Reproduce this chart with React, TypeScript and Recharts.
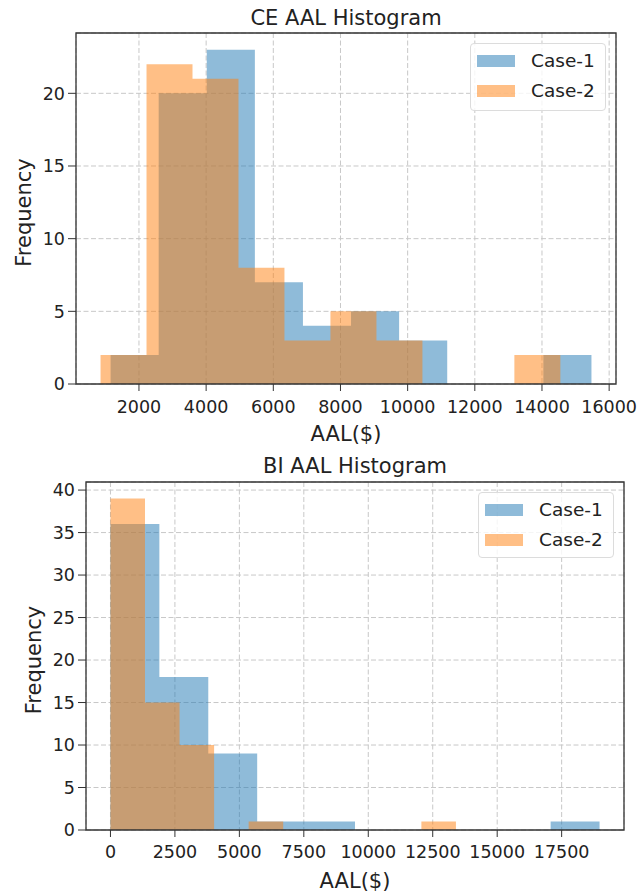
import React from 'react';
import { ComposedChart, Area, XAxis, YAxis, CartesianGrid, ReferenceArea, Label } from 'recharts';

const seriesNames = ['Case-1', 'Case-2'];
const seriesColors = ['#1f77b4', '#ff7f0e'];

// CE AAL histogram: bin edges and counts per case
const ceEdges1 = [1155, 2587, 4019, 5451, 6882, 8314, 9746, 11178, 12610, 14041, 15473];
const ceCounts1 = [2, 20, 23, 7, 4, 5, 3, 0, 0, 2];
const ceEdges2 = [856, 2225, 3594, 4963, 6332, 7701, 9071, 10440, 11809, 13178, 14547];
const ceCounts2 = [2, 22, 21, 8, 3, 5, 3, 0, 0, 2];
const ceXTicks = [2000, 4000, 6000, 8000, 10000, 12000, 14000, 16000];
const ceYTicks = [0, 5, 10, 15, 20];

// BI AAL histogram
const biEdges1 = [0, 1897, 3794, 5691, 7588, 9485, 11382, 13279, 15176, 17073, 18970];
const biCounts1 = [36, 18, 9, 1, 1, 0, 0, 0, 0, 1];
const biEdges2 = [0, 1340, 2680, 4020, 5360, 6700, 8040, 9380, 10720, 12060, 13400];
const biCounts2 = [39, 15, 10, 0, 1, 0, 0, 0, 0, 1];
const biXTicks = [0, 2500, 5000, 7500, 10000, 12500, 15000, 17500];
const biYTicks = [0, 5, 10, 15, 20, 25, 30, 35, 40];

const FONT = '"DejaVu Sans", sans-serif';
const W = 638;
const H = 447;

// step points for a stepAfter area: one point per edge, last edge repeats the last count
const toSteps = (edges: number[], counts: number[]) =>
  edges.map((x, i) => ({ x, y: counts[Math.min(i, counts.length - 1)] }));

interface HistProps {
  title: string;
  edges: number[][];
  counts: number[][];
  xTicks: number[];
  yTicks: number[];
  margin: { top: number; right: number; left: number; bottom: number };
  xTickMargin: number;
  xLabelOffset: number;
  legendBox: { left: number; top: number; width: number; height: number };
  titleTop: number;
}

function Histogram({ title, edges, counts, xTicks, yTicks, margin, xTickMargin, xLabelOffset, legendBox, titleTop }: HistProps) {
  const allEdges = edges.flat();
  const lo = Math.min(...allEdges);
  const hi = Math.max(...allEdges);
  const pad = (hi - lo) * 0.05;
  const xDomain = [lo - pad, hi + pad];
  const yMax = Math.max(...counts.flat()) * 1.05;

  const tickStyle = { fontSize: 17.5, fill: '#222', fontFamily: FONT };
  const labelStyle = { fontSize: 21, fill: '#222', fontFamily: FONT };

  return (
    <div style={{ position: 'relative', width: W, height: H }}>
      <div
        style={{
          position: 'absolute', top: titleTop, left: margin.left + 60, right: margin.right,
          textAlign: 'center', fontFamily: FONT, fontSize: 21, lineHeight: '21px', color: '#222',
        }}
      >
        {title}
      </div>
      <ComposedChart width={W} height={H} margin={margin}>
        {edges.map((e, i) => (
          <Area
            key={seriesNames[i]}
            data={toSteps(e, counts[i])}
            dataKey="y"
            name={seriesNames[i]}
            type="stepAfter"
            stroke="none"
            fill={seriesColors[i]}
            fillOpacity={0.5}
            dot={false}
            activeDot={false}
            isAnimationActive={false}
          />
        ))}
        <CartesianGrid stroke="#c8c8c8" strokeDasharray="5 2.5" strokeWidth={1} />
        <XAxis
          type="number"
          dataKey="x"
          domain={xDomain}
          ticks={xTicks}
          allowDataOverflow
          axisLine={false}
          tickLine={{ stroke: '#333' }}
          tickSize={7}
          tickMargin={xTickMargin}
          tick={tickStyle}
          height={30}
        >
          <Label value="AAL($)" position="bottom" offset={xLabelOffset} style={labelStyle} />
        </XAxis>
        <YAxis
          type="number"
          domain={[0, yMax]}
          ticks={yTicks}
          allowDataOverflow
          axisLine={false}
          tickLine={{ stroke: '#333' }}
          tickSize={8}
          tickMargin={3}
          tick={tickStyle}
          width={60}
        >
          <Label
            value="Frequency"
            angle={-90}
            position="insideLeft"
            offset={8}
            dy={4}
            style={{ ...labelStyle, textAnchor: 'middle' }}
          />
        </YAxis>
        <ReferenceArea
          x1={xDomain[0]}
          x2={xDomain[1]}
          y1={0}
          y2={yMax}
          fill="none"
          stroke="#333"
          strokeWidth={1.3}
          ifOverflow="visible"
        />
      </ComposedChart>
      <div
        style={{
          position: 'absolute', left: legendBox.left, top: legendBox.top, width: legendBox.width,
          height: legendBox.height, boxSizing: 'border-box', border: '1px solid #dcdcdc', borderRadius: 4,
          background: 'rgba(255,255,255,0.8)', fontFamily: FONT, fontSize: 18.5, color: '#222',
        }}
      >
        {seriesNames.map((n, i) => (
          <div key={n} style={{ position: 'absolute', left: 6, top: 10 + i * 30, height: 14, display: 'flex', alignItems: 'center' }}>
            <span style={{ display: 'inline-block', width: 38, height: 12, background: seriesColors[i], opacity: 0.5 }} />
            <span style={{ marginLeft: 16, lineHeight: '14px', whiteSpace: 'nowrap' }}>{n}</span>
          </div>
        ))}
      </div>
    </div>
  );
}

export default function App() {
  return (
    <div style={{ position: 'absolute', left: 0, top: 0, width: W, height: 894, background: '#fff' }}>
      <Histogram
        title="CE AAL Histogram"
        edges={[ceEdges1, ceEdges2]}
        counts={[ceCounts1, ceCounts2]}
        xTicks={ceXTicks}
        yTicks={ceYTicks}
        margin={{ top: 33, right: 22, left: 16, bottom: 33 }}
        xTickMargin={10}
        xLabelOffset={12.5}
        legendBox={{ left: 470, top: 43, width: 136, height: 68 }}
        titleTop={7.5}
      />
      <Histogram
        title="BI AAL Histogram"
        edges={[biEdges1, biEdges2]}
        counts={[biCounts1, biCounts2]}
        xTicks={biXTicks}
        yTicks={biYTicks}
        margin={{ top: 35, right: 14, left: 26, bottom: 34 }}
        xTickMargin={9}
        xLabelOffset={13}
        legendBox={{ left: 478, top: 45, width: 136, height: 66 }}
        titleTop={9}
      />
    </div>
  );
}
